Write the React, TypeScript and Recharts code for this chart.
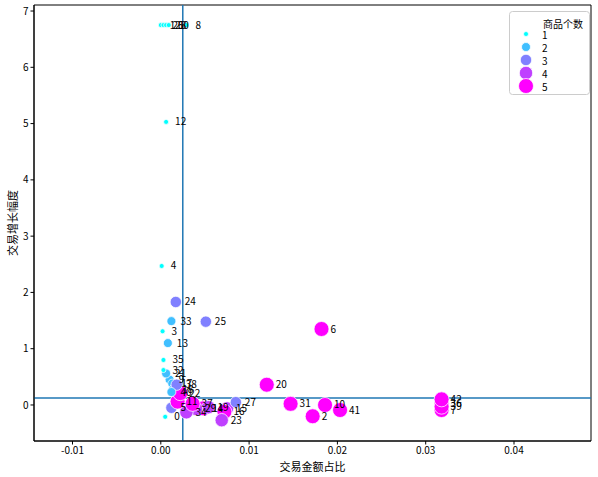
import React from 'react';
import { ScatterChart, Scatter, XAxis, YAxis, ReferenceLine, ReferenceArea } from 'recharts';

const ids = [0,1,2,3,4,5,6,7,8,9,10,11,12,13,14,15,16,17,18,19,20,21,22,23,24,25,26,27,28,29,30,31,32,33,34,35,36,37,38,39,40,41,42];
const shares = [0.0005,0.0000,0.0172,0.0002,0.0001,0.0012,0.0182,0.0318,0.0029,0.0010,0.0186,0.0019,0.0006,0.0008,0.0048,0.0075,0.0072,0.0013,0.0014,0.0054,0.0120,0.0006,0.0022,0.0069,0.0017,0.0051,0.0003,0.0085,0.0006,0.0040,0.0009,0.0147,0.0003,0.0012,0.0029,0.0003,0.0318,0.0036,0.0018,0.0318,0.0012,0.0203,0.0318];
const growths = [-0.21,6.75,-0.20,1.31,2.47,-0.05,1.35,-0.09,6.75,0.45,0.00,0.06,5.03,1.10,-0.06,-0.06,-0.12,0.38,0.28,-0.04,0.36,0.56,0.21,-0.27,1.83,1.48,6.75,0.05,6.75,-0.07,6.75,0.02,0.62,1.49,-0.13,0.80,0.03,0.02,0.36,-0.03,0.23,-0.09,0.10];
const counts = [1,1,5,1,1,3,5,5,1,2,5,5,1,2,5,4,5,2,2,4,5,2,5,4,3,3,1,3,1,4,1,5,1,2,4,1,5,5,3,5,2,5,5];

const legendLevels = [1, 2, 3, 4, 5];
const xTicks = [-0.01, 0, 0.01, 0.02, 0.03, 0.04];
const yTicks = [0, 1, 2, 3, 4, 5, 6, 7];
const xDomain = [-0.01436, 0.04872];
const yDomain = [-0.64, 7.107];
const meanShare = 0.00249;
const meanGrowth = 0.125;

const colors: Record<number, string> = { 1: '#00ffff', 2: '#40bfff', 3: '#8080ff', 4: '#bf40ff', 5: '#ff00ff' };
const radii: Record<number, number> = { 1: 2.5, 2: 4.5, 3: 5.7, 4: 6.7, 5: 7.5 };

const data = ids.map((id, i) => ({ id, x: shares[i], y: growths[i], n: counts[i] }));

const FONT = '"Noto Sans CJK SC", "DejaVu Sans", sans-serif';

const PointShape = (props: any) => {
  const { cx, cy, payload } = props;
  if (cx == null || cy == null) return null;
  return <circle cx={cx} cy={cy} r={radii[payload.n]} fill={colors[payload.n]} stroke="#ffffff" strokeWidth={0.75} />;
};

const LabelShape = (props: any) => {
  const { cx, cy, payload } = props;
  if (cx == null || cy == null) return null;
  return (
    <text x={cx + 9} y={cy - 1} fontSize={10} fontFamily={FONT} fill="#000" dominantBaseline="central">
      {payload.id}
    </text>
  );
};

const Legend = () => (
  <svg width={82} height={85} style={{ position: 'absolute', left: 509, top: 11 }}>
    <rect x={0.5} y={0.5} width={80} height={83} rx={3} fill="#fff" fillOpacity={0.8} stroke="#cccccc" />
    <text x={54} y={12} fontSize={10} fontFamily={FONT} textAnchor="middle" dominantBaseline="central" fill="#000">商品个数</text>
    {legendLevels.map((lv, i) => (
      <g key={lv}>
        <circle cx={17} cy={23 + i * 13} r={radii[lv]} fill={colors[lv]} stroke="#fff" strokeWidth={0.75} />
        <text x={33} y={23 + i * 13} fontSize={10} fontFamily={FONT} dominantBaseline="central" fill="#000">{lv}</text>
      </g>
    ))}
  </svg>
);

export default function App() {
  return (
    <div style={{ position: 'absolute', left: 0, top: 0, width: 598, height: 477, background: '#fff' }}>
      <ScatterChart width={598} height={477} margin={{ top: 5, right: 7, bottom: 0, left: 0 }}>
        <XAxis
          type="number"
          dataKey="x"
          domain={xDomain}
          ticks={xTicks}
          allowDataOverflow
          height={36}
          tickFormatter={(v: number) => v.toFixed(2)}
          tick={{ fontSize: 10, fontFamily: FONT, fill: '#000' }}
          tickSize={3.5}
          tickMargin={2}
          tickLine={{ stroke: '#000' }}
          axisLine={{ stroke: '#000' }}
          label={(p: any) => {
            const vb = p.viewBox;
            return (
              <text x={vb.x + vb.width / 2} y={vb.y + 25} fontSize={11} fontFamily={FONT} textAnchor="middle" dominantBaseline="central" fill="#000">交易金额占比</text>
            );
          }}
        />
        <YAxis
          type="number"
          dataKey="y"
          domain={yDomain}
          ticks={yTicks}
          allowDataOverflow
          width={34}
          tick={{ fontSize: 10, fontFamily: FONT, fill: '#000' }}
          tickSize={3.5}
          tickMargin={2}
          tickLine={{ stroke: '#000' }}
          axisLine={{ stroke: '#000' }}
          label={(p: any) => {
            const vb = p.viewBox;
            const cy = vb.y + vb.height / 2;
            return (
              <text x={12} y={cy} fontSize={11} fontFamily={FONT} textAnchor="middle" dominantBaseline="central" fill="#000" transform={`rotate(-90, 12, ${cy})`}>交易增长幅度</text>
            );
          }}
        />
        <ReferenceArea x1={xDomain[0]} x2={xDomain[1]} y1={yDomain[0]} y2={yDomain[1]} fill="none" stroke="#000" strokeWidth={1} ifOverflow="extendDomain" />
        <Scatter data={data} shape={PointShape} isAnimationActive={false} />
        <ReferenceLine x={meanShare} stroke="#1f77b4" strokeWidth={1.5} />
        <ReferenceLine y={meanGrowth} stroke="#1f77b4" strokeWidth={1.5} />
        <Scatter data={data} shape={LabelShape} isAnimationActive={false} />
      </ScatterChart>
      <Legend />
    </div>
  );
}
